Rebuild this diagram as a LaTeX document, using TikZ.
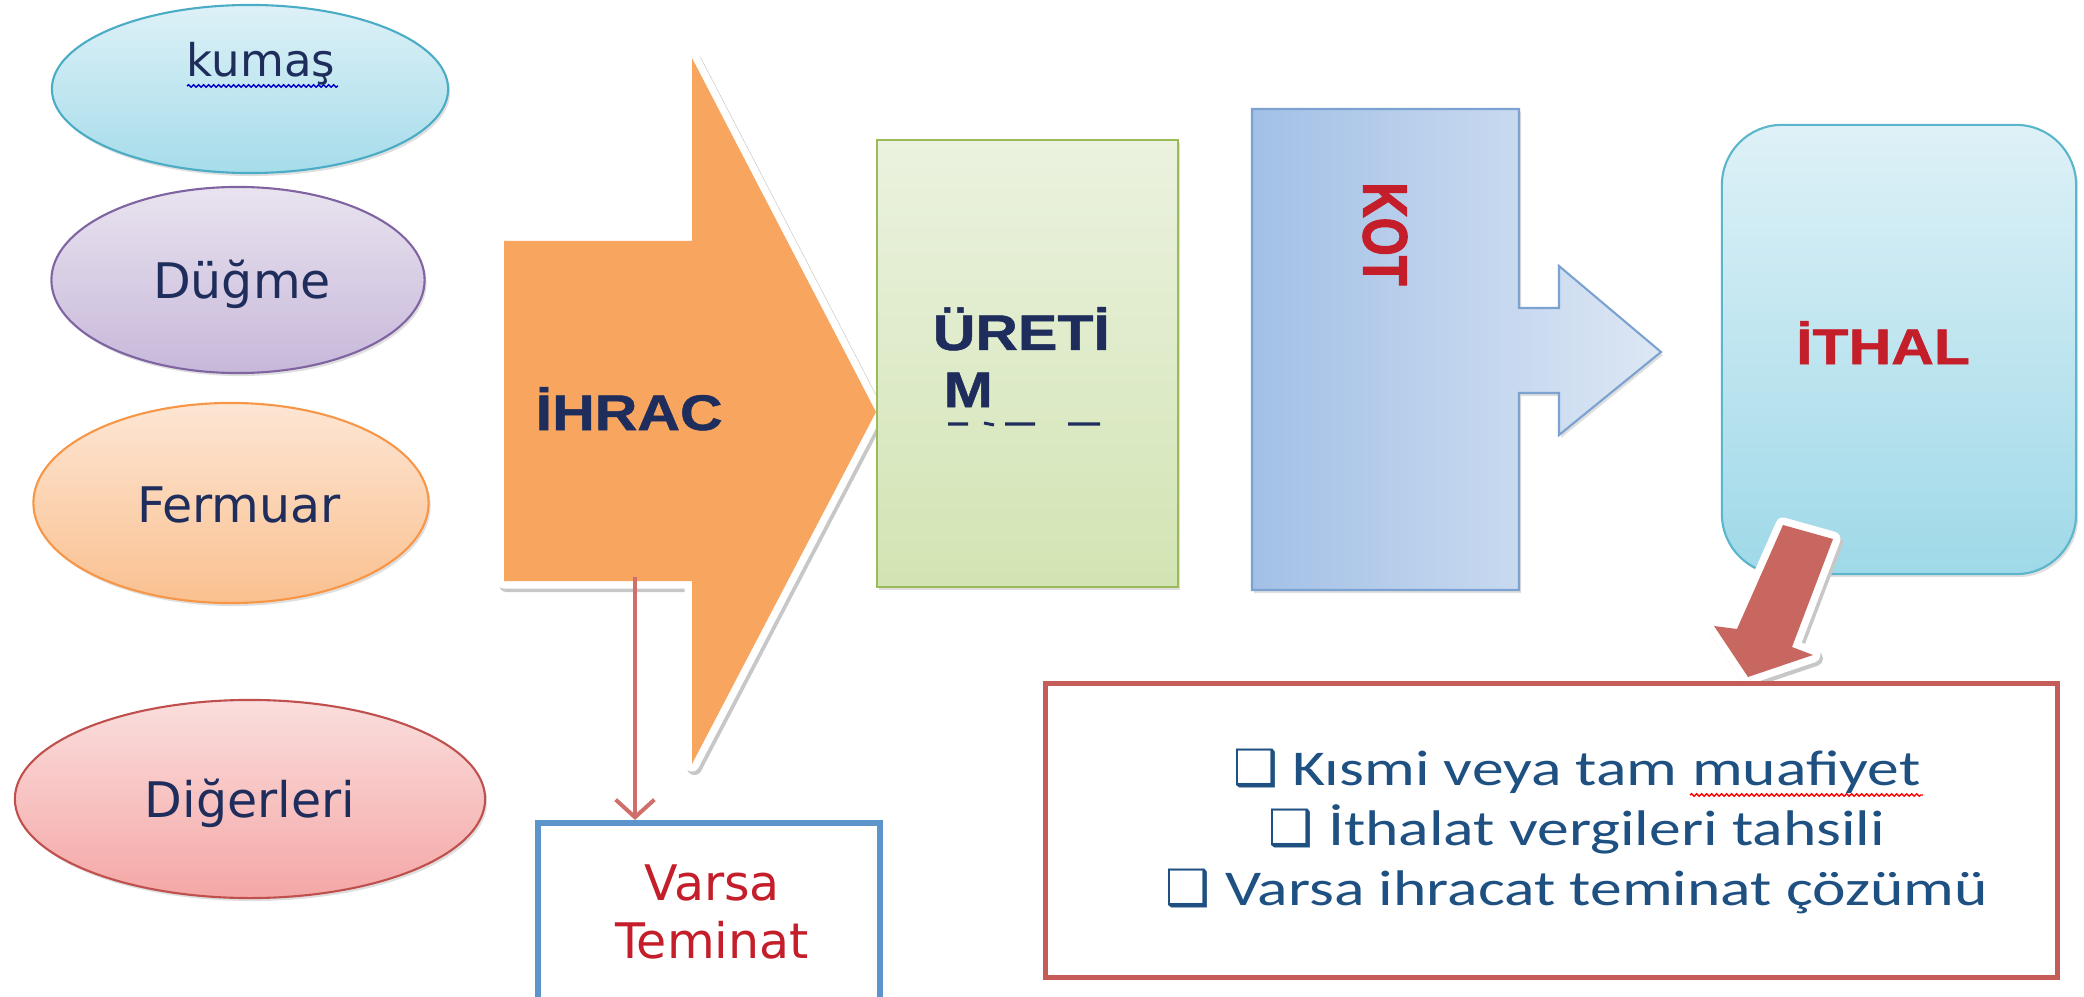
\documentclass[tikz,border=0pt]{standalone}
\usepackage{fontspec}
\usetikzlibrary{shapes.geometric,shadows,arrows.meta,decorations.pathmorphing}
\setmainfont{DejaVu Sans}
\newfontfamily\headfont{Liberation Sans Bold}[FakeStretch=1.18,FakeBold=1]
\newfontfamily\kotfont{Liberation Sans Bold}[FakeBold=2]
\newfontfamily\listfont{Carlito}[FakeStretch=1.27]
\newfontfamily\symfont{DejaVu Sans Bold}

\definecolor{navytext}{HTML}{1F2D5C}
\definecolor{listblue}{HTML}{1F5082}
\definecolor{textred}{HTML}{C41E2A}
\definecolor{kumastop}{HTML}{DDF1F7}
\definecolor{kumasbot}{HTML}{A6DCEA}
\definecolor{kumasline}{HTML}{4BACC6}
\definecolor{dugmetop}{HTML}{E9E3EF}
\definecolor{dugmebot}{HTML}{C7B8DA}
\definecolor{dugmeline}{HTML}{8064A2}
\definecolor{fermuartop}{HTML}{FDE6D4}
\definecolor{fermuarbot}{HTML}{FAC08F}
\definecolor{fermuarline}{HTML}{F79646}
\definecolor{digertop}{HTML}{FADEDD}
\definecolor{digerbot}{HTML}{F4A7A6}
\definecolor{digerline}{HTML}{C0504D}
\definecolor{ihracfill}{HTML}{F8A65F}
\definecolor{uretimtop}{HTML}{EBF2DF}
\definecolor{uretimbot}{HTML}{D2E4B3}
\definecolor{uretimline}{HTML}{9BBB59}
\definecolor{kotleft}{HTML}{A2C0E6}
\definecolor{kotright}{HTML}{DDE7F4}
\definecolor{kotline}{HTML}{7BA2D0}
\definecolor{ithaltop}{HTML}{DEF1F7}
\definecolor{ithalbot}{HTML}{9FD9E8}
\definecolor{ithalline}{HTML}{5BB6CC}
\definecolor{arrowred}{HTML}{C86660}
\definecolor{boxred}{HTML}{C65C57}
\definecolor{lineblue}{HTML}{5B95CB}
\definecolor{linered}{HTML}{D06F69}

\tikzstyle{softshadow}=[drop shadow={opacity=0.25,shadow xshift=0.02cm,shadow yshift=-0.03cm}]
\tikzstyle{oval}=[ellipse,draw,line width=0.6pt,inner sep=0pt,softshadow]
\tikzstyle{ovaltext}=[text=navytext,inner sep=0pt,anchor=base,font=\fontsize{13.94}{16}\selectfont]
\tikzstyle{panel}=[rectangle,draw,line width=0.6pt,inner sep=0pt,softshadow]
\tikzstyle{headtext}=[inner sep=0pt,font=\headfont\fontsize{14.23}{17}\selectfont]
\tikzstyle{blockarrow}=[preaction={draw=black!22,line width=0.15cm,line join=round,transform canvas={xshift=0.025cm,yshift=-0.035cm}},
    preaction={draw=white,line width=0.15cm,line join=round}]
\tikzstyle{wave}=[line width=0.4pt,decorate,decoration={snake,segment length=0.05cm,amplitude=0.012cm}]

\begin{document}
\begin{tikzpicture}[x=0.01cm,y=-0.01cm]
    \useasboundingbox (0,0) rectangle (2084,997);

    % inputs
    \node[oval,draw=kumasline,top color=kumastop,bottom color=kumasbot,minimum width=3.96cm,minimum height=1.68cm] (kumas) at (250,89) {};
    \node[oval,draw=dugmeline,top color=dugmetop,bottom color=dugmebot,minimum width=3.73cm,minimum height=1.86cm] (dugme) at (238,280) {};
    \node[oval,draw=fermuarline,top color=fermuartop,bottom color=fermuarbot,minimum width=3.95cm,minimum height=2cm] (fermuar) at (231,503) {};
    \node[oval,draw=digerline,top color=digertop,bottom color=digerbot,minimum width=4.7cm,minimum height=1.98cm] (diger) at (250,799) {};
    \node[ovaltext,font=\fontsize{12.8}{15}\selectfont] (kumastext) at (261,77) {kumaş};
    \node[ovaltext] (dugmetext) at (242,298) {Düğme};
    \node[ovaltext] (fermuartext) at (239,522) {Fermuar};
    \node[ovaltext] (digertext) at (250,817) {Diğerleri};
    \draw[wave,blue!80!black] (187,86) -- (338,86);

    % ihrac arrow
    \fill[blockarrow,ihracfill] (504,241) -- (692,241) -- (692,58) -- (876,412) -- (692,764) -- (692,581) -- (504,581) -- cycle;
    \node[headtext,text=navytext,anchor=base west] (ihrac) at (535,430) {İHRAC};
    \coordinate (ihracfoot) at (635,577);

    % uretim
    \node[panel,draw=uretimline,top color=uretimtop,bottom color=uretimbot,minimum width=3.01cm,minimum height=4.47cm] (uretim) at (1027.5,363.5) {};
    \node[headtext,text=navytext,anchor=base west] (uretiline) at (932,350) {ÜRETİ};
    \node[headtext,text=navytext,anchor=base west] (uretimline) at (943,407) {M};
    \draw[navytext,line width=0.03cm] (948,424) -- (968,424) (984,423) -- (994,425) (1005,424) -- (1035,424) (1068,424) -- (1100,424);

    % kot
    \draw[kotline,line width=0.6pt,left color=kotleft,right color=kotright,softshadow] (1252,109) -- (1519,109) -- (1519,308) -- (1559,308) -- (1559,266) -- (1661,352) -- (1559,435) -- (1559,393) -- (1519,393) -- (1519,590) -- (1252,590) -- cycle;
    \node[inner sep=0pt,text=textred,rotate=-90,font=\kotfont\fontsize{13.94}{16}\selectfont] (kot) at (1385,234) {\scalebox{1}[1.28]{KOT}};

    % ithal
    \node[panel,rounded corners=0.6cm,draw=ithalline,top color=ithaltop,bottom color=ithalbot,minimum width=3.54cm,minimum height=4.49cm] (ithal) at (1899,349.5) {};
    \node[headtext,text=textred,anchor=base] (ithaltext) at (1883,364) {İTHAL};
    \fill[blockarrow,arrowred] (1783,525) -- (1833,539) -- (1792,647) -- (1813,655) -- (1748,677) -- (1714,626) -- (1737,629) -- cycle;

    % outcomes
    \node[panel,draw=lineblue,line width=0.06cm,fill=white,minimum width=3.42cm,minimum height=1.9cm] (teminat) at (709,918) {};
    \node[text=textred,align=center,inner sep=0pt,font=\fontsize{13.94}{16.5}\selectfont] (teminattext) at (712,912) {Varsa\\Teminat};
    \draw[linered,line width=0.04cm,-{Straight Barb[length=5pt,width=11pt]}] (ihracfoot) -- (ihracfoot |- teminat.north);

    \node[panel,draw=boxred,line width=0.05cm,fill=white,minimum width=10.11cm,minimum height=2.93cm] (result) at (1551.5,830.5) {};
    \node[text=listblue,align=center,inner sep=0pt,font=\listfont\fontsize{14.23}{17.07}\selectfont] (resulttext) at (1577,831) {{\symfont ❑} Kısmi veya tam muafiyet\\{\symfont ❑} İthalat vergileri tahsili\\{\symfont ❑} Varsa ihracat teminat çözümü};
    \draw[wave,red] (1690,795) -- (1923,795);
\end{tikzpicture}
\end{document}
